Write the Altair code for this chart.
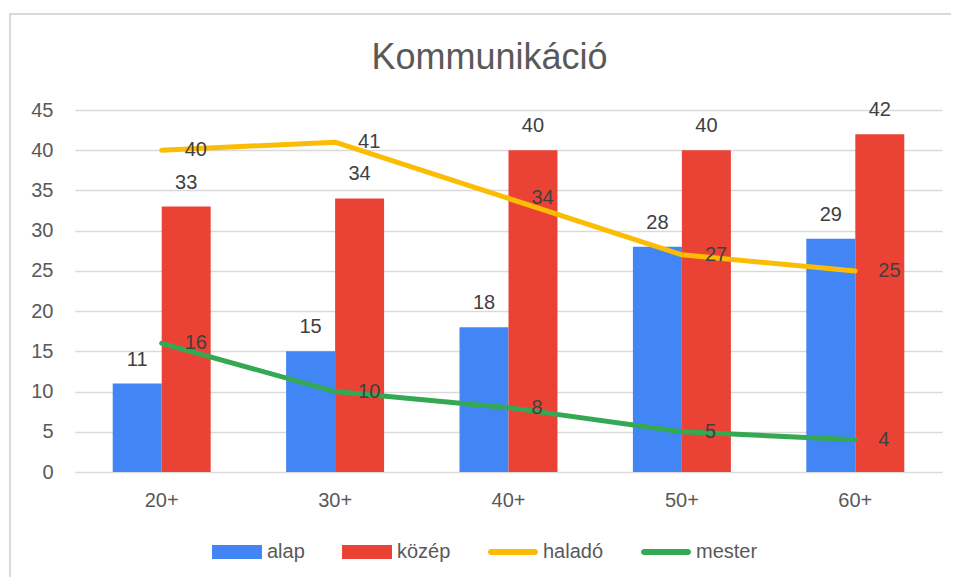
import altair as alt
import pandas as pd

categories = ["20+", "30+", "40+", "50+", "60+"]
alap = [11, 15, 18, 28, 29]
kozep = [33, 34, 40, 40, 42]
halado = [40, 41, 34, 27, 25]
mester = [16, 10, 8, 5, 4]

series_names = ["alap", "közép", "haladó", "mester"]
series_colors = ["#4285F4", "#EA4335", "#FBBC04", "#34A853"]
y_ticks = [0, 5, 10, 15, 20, 25, 30, 35, 40, 45]

bars_df = pd.DataFrame(
    [{"cat": c, "series": "alap", "value": v} for c, v in zip(categories, alap)]
    + [{"cat": c, "series": "közép", "value": v} for c, v in zip(categories, kozep)]
)
lines_df = pd.DataFrame(
    [{"cat": c, "series": "haladó", "value": v} for c, v in zip(categories, halado)]
    + [{"cat": c, "series": "mester", "value": v} for c, v in zip(categories, mester)]
)
frame_df = pd.DataFrame({"b": [0]})

FONT = "Liberation Sans"

x_enc = alt.X(
    "cat:N",
    sort=categories,
    title=None,
    scale=alt.Scale(paddingInner=0.435, paddingOuter=0.2175),
    axis=alt.Axis(
        labelAngle=0, labelFontSize=20, labelColor="#595959", labelFont=FONT,
        labelPadding=18, ticks=False, domain=False, grid=False,
    ),
)
y_enc = alt.Y(
    "value:Q",
    title=None,
    scale=alt.Scale(domain=[0, 45], nice=False),
    axis=alt.Axis(
        values=y_ticks, labelFontSize=20, labelColor="#595959", labelFont=FONT,
        labelPadding=22, ticks=False, domain=False, grid=True,
        gridColor="#d9d9d9", gridWidth=1.5,
    ),
)
color_scale = alt.Scale(domain=series_names, range=series_colors)

shape_expr = (
    "indexof(['haladó','mester'], datum.value) >= 0 ? "
    "'M-0.88,-0.12L0.88,-0.12A0.12,0.12 0 0 1 0.88,0.12L-0.88,0.12A0.12,0.12 0 0 1 -0.88,-0.12Z' : "
    "'M-1,-0.28L1,-0.28L1,0.28L-1,0.28Z'"
)

bars = alt.Chart(bars_df).mark_bar().encode(
    x=x_enc,
    xOffset=alt.XOffset("series:N", sort=["alap", "közép"],
                        scale=alt.Scale(paddingInner=0, paddingOuter=0)),
    y=y_enc,
    color=alt.Color(
        "series:N", scale=color_scale,
        legend=alt.Legend(
            title=None, orient="none", direction="horizontal",
            legendX=137, legendY=417,
            symbolType=alt.ExprRef(shape_expr), symbolSize=2500,
            symbolStrokeWidth=0, labelFontSize=20, labelFont=FONT,
            labelColor="#595959", labelOffset=5, columnPadding=37,
        ),
    ),
)

bar_labels = alt.Chart(bars_df).mark_text(
    fontSize=20, font=FONT, color="#404040", baseline="alphabetic", dy=-18
).encode(
    x=alt.X("cat:N", sort=categories),
    xOffset=alt.XOffset("series:N", sort=["alap", "közép"]),
    y="value:Q",
    text="value:Q",
)

lines = alt.Chart(lines_df).mark_line(strokeWidth=5, strokeCap="round", strokeJoin="round").encode(
    x=alt.X("cat:N", sort=categories),
    y="value:Q",
    color=alt.Color("series:N", scale=color_scale, legend=None),
    detail="series:N",
)

line_labels = alt.Chart(lines_df).mark_text(
    fontSize=20, font=FONT, color="#404040", align="left", baseline="middle", dx=23
).encode(
    x=alt.X("cat:N", sort=categories),
    y="value:Q",
    text="value:Q",
)

frame_top = alt.Chart(frame_df).mark_rule(stroke="#d9d9d9", strokeWidth=2).encode(
    x=alt.value(-66), x2=alt.value(900), y=alt.value(-96)
)
frame_left = alt.Chart(frame_df).mark_rule(stroke="#d9d9d9", strokeWidth=2).encode(
    x=alt.value(-65), y=alt.value(-97), y2=alt.value(500)
)

chart = alt.layer(frame_top, frame_left, bars, lines, bar_labels, line_labels).properties(
    width=867,
    height=362,
    autosize=alt.AutoSizeParams(type="none"),
    padding={"left": 67, "top": 102, "right": 9, "bottom": 105},
    title=alt.TitleParams(
        "Kommunikáció", fontSize=36, font=FONT, fontWeight="normal",
        color="#595959", anchor="middle", dx=-19, offset=-65,
    ),
).configure_view(stroke=None)

chart.save("out.html", embed_options={"renderer": "svg", "actions": False})
